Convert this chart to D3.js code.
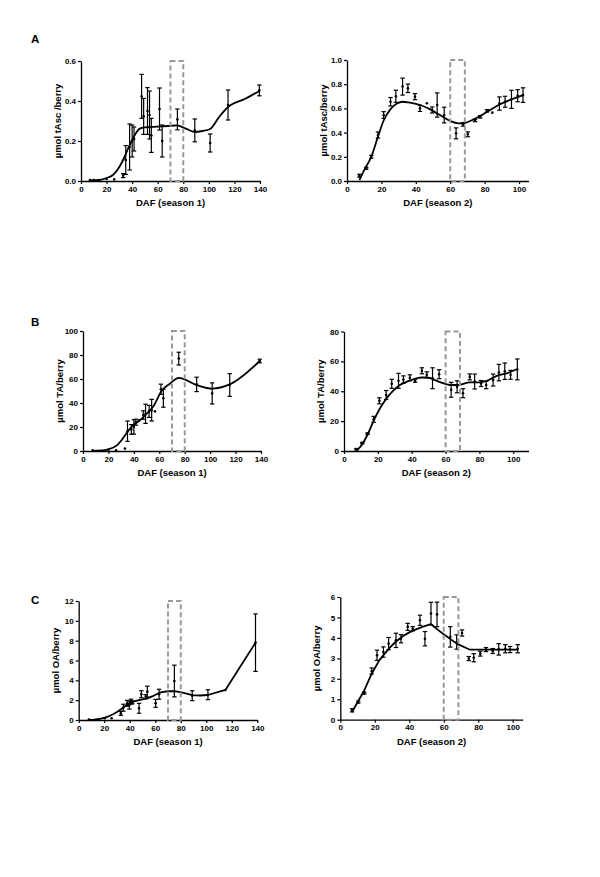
<!DOCTYPE html>
<html>
<head>
<meta charset="utf-8">
<script src="https://cdn.jsdelivr.net/npm/d3@7"></script>
<style>
  body { margin: 0; background: #fff; }
  svg { display: block; font-family: "Liberation Sans", Arial, sans-serif; }
</style>
</head>
<body>
<svg id="chart" width="600" height="877"></svg>
<script>
// ---------- DATA ----------
// Panel A, season 1 (total ascorbate)
const a1X   = [7, 10, 14, 20, 26, 33, 35, 38, 40, 41.5, 47.4, 49, 52, 53.6, 55, 61.4, 63.5, 75.4, 89, 101, 115, 139.5];
const a1Y   = [0.005, 0.005, 0.005, 0.01, 0.008, 0.027, 0.105, 0.17, 0.2, 0.21, 0.423, 0.323, 0.35, 0.33, 0.228, 0.36, 0.2, 0.308, 0.253, 0.19, 0.38, 0.453];
const a1Err = [0, 0, 0, 0, 0, 0.01, 0.072, 0.115, 0.08, 0.06, 0.11, 0.09, 0.117, 0.12, 0.085, 0.105, 0.08, 0.052, 0.057, 0.045, 0.075, 0.027];
const a1FitX = [7, 15, 20, 25, 30, 34, 37, 40, 43, 46, 50, 60, 68, 75, 82, 89, 95, 101, 108, 115, 128, 139.5];
const a1FitY = [0.003, 0.006, 0.015, 0.03, 0.07, 0.12, 0.165, 0.205, 0.24, 0.262, 0.268, 0.272, 0.275, 0.278, 0.262, 0.245, 0.25, 0.26, 0.32, 0.37, 0.41, 0.45];

// Panel A, season 2
const a2X   = [7.2, 11.2, 14.1, 18, 21.3, 25.3, 28.4, 32.3, 35.4, 39.5, 42.4, 46.4, 49.5, 52.4, 56.5, 63.4, 67.5, 70.2, 74.4, 77.4, 81.4, 84.5, 88.6, 91.9, 95.6, 99.2, 102.3];
const a2Y   = [0.044, 0.105, 0.2, 0.38, 0.545, 0.655, 0.70, 0.78, 0.766, 0.697, 0.6, 0.642, 0.587, 0.628, 0.545, 0.394, 0.468, 0.386, 0.5, 0.53, 0.58, 0.565, 0.64, 0.655, 0.675, 0.705, 0.71];
const a2Err = [0.012, 0.008, 0.012, 0.025, 0.028, 0.035, 0.05, 0.07, 0.035, 0.025, 0.025, 0, 0.025, 0.1, 0.065, 0.045, 0.015, 0.02, 0.01, 0.01, 0.01, 0, 0.055, 0.045, 0.075, 0.05, 0.06];
const a2FitX = [7.2, 10, 14.1, 18, 21.3, 25.1, 29, 32.3, 35.8, 42.6, 48.4, 54, 60, 64.8, 67.7, 71.6, 77.4, 83.2, 89, 94.8, 102.3];
const a2FitY = [0.008, 0.09, 0.2, 0.366, 0.5, 0.59, 0.64, 0.655, 0.65, 0.628, 0.592, 0.545, 0.496, 0.477, 0.477, 0.496, 0.537, 0.587, 0.634, 0.67, 0.71];

// Panel B, season 1 (titratable acidity)
const b1X   = [7.6, 20, 26, 33, 35, 38, 40, 41.6, 44, 47.4, 49.2, 52, 54, 56.6, 61.3, 63.2, 75.3, 89.4, 101.6, 115.4, 139];
const b1Y   = [0.5, 1, 0.5, 2, 16.5, 18, 20, 24, 25.6, 30, 31, 33, 34, 33, 51.5, 44, 77, 55.5, 48, 55, 75];
const b1Err = [0, 0, 0, 0, 8.5, 4, 6, 2.5, 0, 3.5, 8, 5, 9, 0, 4.2, 7.5, 5.3, 6, 8.8, 9.5, 1.5];
const b1FitX = [7, 15, 20, 26.6, 30, 34.3, 39.5, 44.8, 50, 55.8, 61.8, 68.3, 75.3, 89.4, 101.6, 115.4, 139];
const b1FitY = [0, 0.5, 1.4, 4.7, 8.5, 15, 21.5, 25.6, 31, 38, 50, 56, 61, 55, 52, 55.5, 75];

// Panel B, season 2
const b2X   = [7.3, 10.8, 13.9, 17.5, 20.9, 24.9, 28.2, 32.2, 35.1, 38.9, 42, 46, 48.9, 52.3, 56.2, 63.3, 66.8, 70.3, 74.3, 77.2, 81, 84, 88.1, 91.5, 95, 98.4, 102.4];
const b2Y   = [1.2, 5.3, 11.6, 21.2, 33.6, 37.5, 45, 47, 47.8, 49, 47, 53.7, 51, 48.7, 51.4, 41, 43, 38.7, 49.6, 46.5, 45.2, 44.2, 47.5, 52.5, 53.4, 51, 54.6];
const b2Err = [0.5, 0.5, 0.5, 2, 2, 3, 3, 5, 2.5, 2, 1, 2, 2, 7, 3, 5, 4, 3, 2, 5, 2, 2.5, 4, 5.5, 5.5, 3, 7];
const b2FitX = [7.5, 10.8, 13.8, 17.3, 21.3, 25.2, 29.1, 33, 39, 45.9, 48.8, 55.9, 62.6, 67.5, 74.4, 80.3, 84.3, 90.2, 96.1, 102];
const b2FitY = [0.2, 4.5, 10.7, 19.7, 28.6, 35.3, 40.4, 44.2, 47.2, 49.2, 49.2, 46.5, 44.2, 44.2, 46, 46, 46.9, 50.3, 52, 54.7];

// Panel C, season 1 (oxalic acid)
const c1X   = [8, 20.4, 25.8, 33, 35, 38, 39.7, 41, 42, 47.3, 49.1, 52.5, 53.8, 60.3, 63, 75, 89, 101.3, 115, 138.6];
const c1Y   = [0.05, 0.17, 0.17, 0.67, 1.24, 1.68, 1.5, 1.85, 1.78, 1.18, 2.6, 2.35, 2.86, 1.68, 2.6, 3.93, 2.45, 2.55, 3.03, 7.8];
const c1Err = [0, 0, 0, 0.2, 0.35, 0.3, 0.4, 0.25, 0.15, 0.5, 0.35, 0.2, 0.55, 0.4, 0.5, 1.6, 0.5, 0.5, 0, 2.9];
const c1FitX = [8, 12, 16, 20.4, 24, 27, 30, 34.2, 37.5, 40.7, 44, 47.3, 53.8, 58, 61, 64.2, 70, 75, 80.7, 89, 95, 101.3, 115, 138.6];
const c1FitY = [0, 0.03, 0.1, 0.24, 0.4, 0.58, 0.8, 1.18, 1.5, 1.75, 1.9, 2.0, 2.18, 2.4, 2.6, 2.78, 2.9, 2.92, 2.78, 2.5, 2.47, 2.52, 3.03, 7.8];

// Panel C, season 2
const c2X   = [6.8, 10.4, 13.9, 18.2, 21.3, 25, 28, 32.3, 35.2, 39.1, 42, 46.2, 49.1, 52.6, 56.1, 63.8, 67.5, 70.6, 74.5, 77.4, 81.2, 84.5, 88.4, 91.9, 95.7, 98.5, 102.9];
const c2Y   = [0.46, 0.86, 1.3, 2.38, 3.15, 3.31, 3.72, 3.88, 3.96, 4.54, 4.45, 4.86, 3.96, 5.19, 5.15, 4.05, 3.8, 4.24, 2.99, 3.03, 3.23, 3.43, 3.36, 3.44, 3.47, 3.43, 3.47];
const c2Err = [0.08, 0.05, 0.05, 0.15, 0.25, 0.25, 0.3, 0.35, 0.2, 0.17, 0.1, 0.25, 0.35, 0.55, 0.6, 0.5, 0.35, 0.15, 0.1, 0.2, 0.12, 0.1, 0.12, 0.28, 0.2, 0.15, 0.2];
const c2FitX = [6.8, 10, 13.9, 18.2, 22.6, 28.4, 32, 36.2, 40, 43.9, 48, 52.6, 59.4, 67.5, 74.9, 102.9];
const c2FitY = [0.38, 0.85, 1.43, 2.25, 2.9, 3.5, 3.8, 4.08, 4.27, 4.42, 4.55, 4.67, 4.21, 3.72, 3.43, 3.43];

// Tick labels / highlighted windows
const season1Ticks = [0, 20, 40, 60, 80, 100, 120, 140];
const season2Ticks = [0, 20, 40, 60, 80, 100];
const ascS1Ticks = [0.0, 0.2, 0.4, 0.6];
const ascS2Ticks = [0.0, 0.2, 0.4, 0.6, 0.8, 1.0];
const taS1Ticks = [0, 20, 40, 60, 80, 100];
const taS2Ticks = [0, 20, 40, 60, 80];
const oaS1Ticks = [0, 2, 4, 6, 8, 10, 12];
const oaS2Ticks = [0, 1, 2, 3, 4, 5, 6];
const season1Window = [70, 80];
const season2Window = [60, 68.5];
const panelLetters = ["A", "B", "C"];

// ---------- LAYOUT ----------
const panels = [
  { xs: a1X, ys: a1Y, es: a1Err, fx: a1FitX, fy: a1FitY, xt: season1Ticks, yt: ascS1Ticks, win: season1Window,
    xDom: [0, 140], xR: [81, 260], yDom: [0, 0.6], yR: [181, 61], fmt: d3.format(".1f"),
    xTitle: "DAF (season 1)", yTitle: "µmol tAsc /berry", curve: d3.curveMonotoneX },
  { xs: a2X, ys: a2Y, es: a2Err, fx: a2FitX, fy: a2FitY, xt: season2Ticks, yt: ascS2Ticks, win: season2Window,
    xDom: [0, 105.5], xR: [347, 528.5], yDom: [0, 1.0], yR: [181, 60], fmt: d3.format(".1f"),
    xTitle: "DAF (season 2)", yTitle: "µmol tAsc/berry", curve: d3.curveMonotoneX },
  { xs: b1X, ys: b1Y, es: b1Err, fx: b1FitX, fy: b1FitY, xt: season1Ticks, yt: taS1Ticks, win: season1Window,
    xDom: [0, 140], xR: [83, 261], yDom: [0, 100], yR: [451, 331], fmt: d3.format("d"),
    xTitle: "DAF (season 1)", yTitle: "µmol TA/berry", curve: d3.curveMonotoneX },
  { xs: b2X, ys: b2Y, es: b2Err, fx: b2FitX, fy: b2FitY, xt: season2Ticks, yt: taS2Ticks, win: season2Window,
    xDom: [0, 109], xR: [344, 528.5], yDom: [0, 80], yR: [451, 331.5], fmt: d3.format("d"),
    xTitle: "DAF (season 2)", yTitle: "µmol TA/berry", curve: d3.curveMonotoneX },
  { xs: c1X, ys: c1Y, es: c1Err, fx: c1FitX, fy: c1FitY, xt: season1Ticks, yt: oaS1Ticks, win: season1Window,
    xDom: [0, 140], xR: [78.7, 257.3], yDom: [0, 12], yR: [720, 601], fmt: d3.format("d"),
    xTitle: "DAF (season 1)", yTitle: "µmol OA/berry", curve: d3.curveLinear },
  { xs: c2X, ys: c2Y, es: c2Err, fx: c2FitX, fy: c2FitY, xt: season2Ticks, yt: oaS2Ticks, win: season2Window,
    xDom: [0, 105.8], xR: [340.3, 522.7], yDom: [0, 6], yR: [719.7, 597], fmt: d3.format("d"),
    xTitle: "DAF (season 2)", yTitle: "µmol OA/berry", curve: d3.curveLinear }
];
const letterPos = [[31, 43], [31, 326], [31, 604]];

const svg = d3.select("#chart");
svg.append("rect").attr("width", 600).attr("height", 877).attr("fill", "#fff");

panelLetters.forEach((L, i) => {
  svg.append("text").attr("x", letterPos[i][0]).attr("y", letterPos[i][1])
    .attr("font-size", 11.5).attr("font-weight", "bold").attr("fill", "#000").text(L);
});

panels.forEach(p => {
  const x = d3.scaleLinear().domain(p.xDom).range(p.xR);
  const y = d3.scaleLinear().domain(p.yDom).range(p.yR);
  const g = svg.append("g");

  // axes
  const xa = g.append("g").attr("transform", `translate(0,${p.yR[0]})`)
    .call(d3.axisBottom(x).tickValues(p.xt).tickSize(3).tickSizeOuter(0).tickPadding(2));
  const ya = g.append("g").attr("transform", `translate(${p.xR[0]},0)`)
    .call(d3.axisLeft(y).tickValues(p.yt).tickSize(3).tickSizeOuter(0).tickFormat(p.fmt).tickPadding(2));
  [xa, ya].forEach(a => {
    a.select(".domain").attr("stroke", "#000").attr("stroke-width", 1.3);
    a.selectAll(".tick line").attr("stroke", "#000").attr("stroke-width", 1.2);
    a.selectAll(".tick text").attr("font-size", 8).attr("font-weight", "bold").attr("fill", "#000")
      .attr("font-family", '"Liberation Sans", Arial, sans-serif');
  });

  // titles
  g.append("text").attr("x", (p.xR[0] + p.xR[1]) / 2).attr("y", p.yR[0] + 25)
    .attr("text-anchor", "middle").attr("font-size", 9.5).attr("font-weight", "bold").text(p.xTitle);
  const yc = (p.yR[0] + p.yR[1]) / 2;
  g.append("text").attr("transform", `translate(${p.xR[0] - 20},${yc}) rotate(-90)`)
    .attr("text-anchor", "middle").attr("font-size", 9.5).attr("font-weight", "bold").text(p.yTitle);

  // fitted curve
  const fit = p.fx.map((v, i) => [v, p.fy[i]]);
  g.append("path").datum(fit)
    .attr("d", d3.line().x(d => x(d[0])).y(d => y(d[1])).curve(p.curve))
    .attr("fill", "none").attr("stroke", "#000").attr("stroke-width", 1.8).attr("stroke-linejoin", "round");

  // error bars + points
  const pts = p.xs.map((v, i) => ({ x: v, y: p.ys[i], e: p.es[i] }));
  const eb = g.append("g").attr("stroke", "#000").attr("stroke-width", 1.2);
  pts.filter(d => d.e > 0).forEach(d => {
    const cx = x(d.x), y1 = y(Math.max(0, d.y - d.e)), y2 = y(d.y + d.e);
    eb.append("line").attr("x1", cx).attr("x2", cx).attr("y1", y1).attr("y2", y2);
    eb.append("line").attr("x1", cx - 2.2).attr("x2", cx + 2.2).attr("y1", y1).attr("y2", y1);
    eb.append("line").attr("x1", cx - 2.2).attr("x2", cx + 2.2).attr("y1", y2).attr("y2", y2);
  });
  g.append("g").selectAll("circle").data(pts).join("circle")
    .attr("cx", d => x(d.x)).attr("cy", d => y(d.y)).attr("r", 1.3).attr("fill", "#000");

  // highlighted window (dashed box)
  g.append("rect")
    .attr("x", x(p.win[0])).attr("y", y(p.yDom[1]))
    .attr("width", x(p.win[1]) - x(p.win[0])).attr("height", y(p.yDom[0]) - y(p.yDom[1]))
    .attr("fill", "none").attr("stroke", "#999").attr("stroke-width", 2).attr("stroke-dasharray", "5,3");
});
</script>
</body>
</html>
